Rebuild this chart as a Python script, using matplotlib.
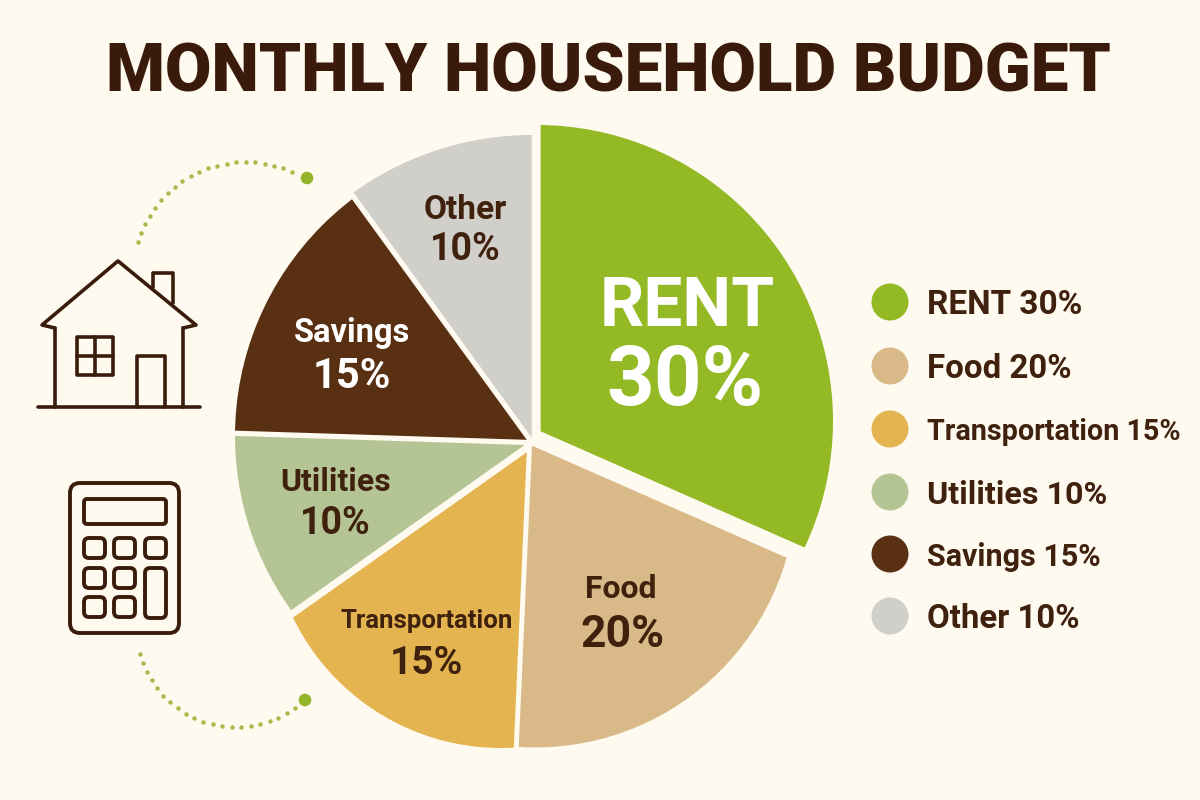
import numpy as np
import matplotlib.pyplot as plt
from matplotlib.patches import Wedge, Circle, Rectangle, FancyBboxPatch

# Dati del grafico
categorie = ['RENT', 'Food', 'Transportation', 'Utilities', 'Savings', 'Other']
valori    = [30, 20, 15, 10, 15, 10]
# Quote degli spicchi come sono disegnate nella figura (non proprio uguali alle etichette)
quote     = [31.6, 19.1, 14.5, 10.3, 14.5, 10.0]
colori    = ['#93BA25', '#D9B988', '#E3B450', '#B4C494', '#5A3012', '#D1CFCA']
titolo    = 'MONTHLY HOUSEHOLD BUDGET'

BROWN = '#3F210E'
BG    = '#FEFAF0'
VERDE = '#93B52A'

# Ogni spicchio ha il suo vertice e il suo cerchio di bordo: la torta non e' tonda
vertici = [(539.5, 432), (531, 444), (528, 450), (528, 444), (529, 441), (532.8, 441)]
bordi   = [(537, 421, 296), (535.5, 486.4, 261), (501, 517, 231),
           (533, 436, 298), (533, 436, 298), (532, 441, 306)]

plt.rcParams['font.family'] = ['Roboto', 'DejaVu Sans']

fig = plt.figure(figsize=(12, 8), dpi=100, facecolor=BG)
ax = fig.add_axes([0, 0, 1, 1])
ax.set_xlim(0, 1200)
ax.set_ylim(800, 0)
ax.axis('off')

ax.text(608, 73, titolo, ha='center', va='center', fontsize=48.5, fontweight='black',
        color='#3A1A0B')

# Torta: con y invertito gli angoli girano in senso orario
start = -90
for q, c, vert, bordo in zip(quote, colori, vertici, bordi):
    theta = q/100*360
    w = Wedge(vert, 480, start, start+theta, facecolor=c, edgecolor=BG, linewidth=1.6)
    ax.add_patch(w)
    w.set_clip_path(Circle(bordo[:2], bordo[2], transform=ax.transData))
    start += theta


def scritta(x, y, testo, size, colore=BROWN):
    ax.text(x, y, testo, ha='center', va='center', fontsize=size, fontweight='bold', color=colore)


# Etichette sulla torta
scritta(687, 307, 'RENT', 50, 'white')
scritta(685, 382, '30%', 60, 'white')
scritta(621, 589, 'Food', 23)
scritta(622, 635, '20%', 32)
scritta(427, 621, 'Transportation', 18.5)
scritta(426, 664, '15%', 28)
scritta(336, 482, 'Utilities', 23)
scritta(335, 523, '10%', 27)
scritta(352, 333, 'Savings', 23.5, 'white')
scritta(352, 376, '15%', 30, 'white')
scritta(465, 210, 'Other', 24)
scritta(465, 250, '10%', 27)

# Legenda
ly      = [302, 366, 429, 492, 554, 616]
sizeleg = [24, 23.8, 20.7, 23.2, 22, 23.8]
for y, nome, v, c, s in zip(ly, categorie, valori, colori, sizeleg):
    ax.add_patch(Circle((890, y), 18.5, facecolor=c, edgecolor='none'))
    ax.text(927, y+3, '{} {}%'.format(nome, v), ha='left', va='center', fontsize=s,
            fontweight='bold', color=BROWN)

# Icona casa
lw = 2.6
kw = dict(color='#3A1C0C', lw=lw, solid_capstyle='round', solid_joinstyle='round')
ax.plot([55, 42, 118, 196, 183], [328, 325, 261, 325, 328], **kw)
ax.plot([55, 55], [328, 407], **kw)
ax.plot([183, 183], [328, 407], **kw)
ax.plot([38, 200], [407, 407], **kw)
ax.plot([153, 153, 173, 173], [287, 273, 273, 303], **kw)
ax.add_patch(Rectangle((77, 337), 36, 38, fill=False, edgecolor='#3A1C0C', lw=lw, joinstyle='round'))
ax.plot([95, 95], [337, 375], **kw)
ax.plot([77, 113], [356, 356], **kw)
ax.plot([137, 137, 165, 165], [407, 356, 356, 407], **kw)


# Icona calcolatrice
def tasto(x, y, larg, alt, raggio=5):
    ax.add_patch(FancyBboxPatch((x, y), larg, alt, boxstyle='round,pad=0,rounding_size={}'.format(raggio),
                                fill=False, edgecolor='#3A1C0C', lw=2.8))


tasto(70, 483, 109, 150, 10)
tasto(84, 499, 82, 25, 3)
for x in [84, 114, 145]:
    tasto(x, 538, 21, 20)
for x in [84, 114]:
    for y in [568, 597]:
        tasto(x, y, 21, 20)
tasto(145, 568, 21, 50)

# Archi a puntini
a = np.radians(np.linspace(-163.2, -65.6, 21))
ax.plot(245.6+112.4*np.cos(a), 274.4+112.4*np.sin(a), 'o', ms=3.2, color='#A3BC4A', mec='none')
ax.add_patch(Circle((307, 178), 5.6, color=VERDE))
a = np.radians(np.linspace(164.4, 54, 21))
ax.plot(236.3+100*np.cos(a), 627.2+100*np.sin(a), 'o', ms=3.2, color='#A3BC4A', mec='none')
ax.add_patch(Circle((305, 700), 5.6, color=VERDE))

plt.savefig('out.png', dpi=100, facecolor=BG)
